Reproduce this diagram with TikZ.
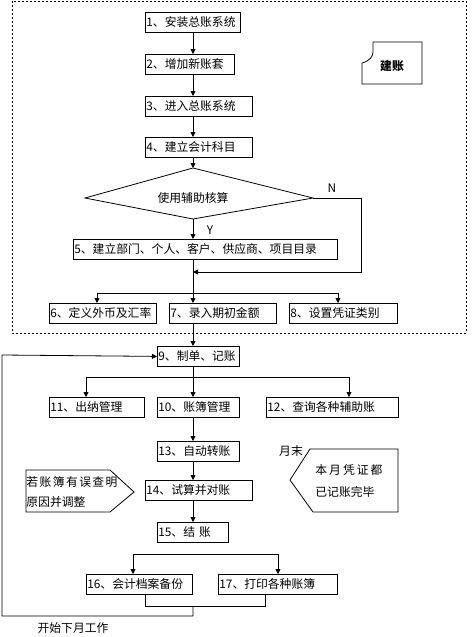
\documentclass[tikz,border=0pt]{standalone}
\usepackage{fontspec}
\newfontfamily\cjk{Noto Sans CJK SC}
\newfontfamily\cjkwide[LetterSpace=12]{Noto Sans CJK SC}
\usetikzlibrary{positioning, arrows.meta}

\begin{document}
\begin{tikzpicture}[x=1pt, y=-1pt, line width=0.8pt,
    every node/.style={font=\cjk\fontsize{11.8}{14}\selectfont},
    box/.style={draw, anchor=north west, minimum height=20pt, inner xsep=1pt, inner ysep=0pt, text width=#1, align=left},
    flow/.style={-{Triangle[length=5pt,width=5pt]}},
    note/.style={inner sep=0pt, anchor=west}]

    \useasboundingbox (0,0) rectangle (476,637);

    % Setup frame
    \draw[dash pattern=on 2pt off 2pt] (12,1) rectangle (466,333);
    \coordinate (spine) at (193,0);

    % Setup steps
    \node (b1) [box=93]  at (145,12)  {1、安装总账系统};
    \node (b2) [box=87]  at (145,54)  {2、增加新账套};
    \node (b3) [box=105] at (145,96)  {3、进入总账系统};
    \node (b4) [box=105] at (145,137) {4、建立会计科目};

    % Decision
    \coordinate (dT) at (193,168);
    \coordinate (dL) at (85,198);
    \coordinate (dR) at (313,198);
    \coordinate (dB) at (193,219);
    \draw (dT) -- (dR) -- (dB) -- (dL) -- cycle;
    \node (dtext) at (193,198) {使用辅助核算};
    \node (lblN) at (332,188) {N};
    \node (lblY) at (210,230) {Y};

    \node (b5) [box=262] at (73,239)  {5、建立部门、个人、客户、供应商、项目目录};
    \node (b6) [box=105] at (49,303)  {6、定义外币及汇率};
    \node (b7) [box=105] at (169,303) {7、录入期初金额};
    \node (b8) [box=106] at (289,303) {8、设置凭证类别};

    % Label card
    \coordinate (cA) at (373,42);
    \coordinate (cB) at (422,42);
    \coordinate (cC) at (422,84);
    \coordinate (cD) at (362,84);
    \draw (cA) -- (cB) -- (cC) -- (cD) -- (362,63) .. controls (370,61) and (373,56) .. (373,52) -- cycle;
    \node (card) at (392,66) {\bfseries 建账};

    % Monthly work
    \node (b9)  [box=80]  at (157,346) {9、制单、记账};
    \node (b11) [box=93]  at (49,397)  {11、出纳管理};
    \node (b10) [box=80]  at (157,397) {10、账簿管理};
    \node (b12) [box=130] at (266,397) {12、查询各种辅助账};
    \node (b13) [box=80]  at (157,441) {13、自动转账};
    \node (b14) [box=105] at (145,480) {14、试算并对账};
    \node (b15) [box=69]  at (157,522) {15、结\ 账};
    \node (b16) [box=104] at (86,574)  {16、会计档案备份};
    \node (b17) [box=117] at (218,574) {17、打印各种账簿};

    % Callouts
    \coordinate (lA) at (26,470);
    \coordinate (lB) at (110,470);
    \coordinate (lC) at (134,492);
    \coordinate (lD) at (110,512);
    \coordinate (lE) at (26,512);
    \draw (lA) -- (lB) -- (lC) -- (lD) -- (lE) -- cycle;
    \node (err1) [note] at (26,482) {\cjkwide 若账簿有误查明};
    \node (err2) [note] at (26,502) {原因并调整};

    \coordinate (rA) at (310,449);
    \coordinate (rB) at (398,449);
    \coordinate (rC) at (398,512);
    \coordinate (rD) at (313,512);
    \coordinate (rE) at (290,480);
    \draw (rA) -- (rB) -- (rC) -- (rD) -- (rE) -- cycle;
    \node (done1) [note] at (315,470) {\addfontfeature{LetterSpace=17}本月凭证都};
    \node (done2) [note] at (315,492) {已记账完毕};
    \node (monthend) at (291,451) {月末};

    \node (restart) at (73,628) {开始下月工作};

    % Connectors
    \draw[flow] (spine |- b1.south) -- (spine |- b2.north);
    \draw[flow] (spine |- b2.south) -- (spine |- b3.north);
    \draw[flow] (spine |- b3.south) -- (spine |- b4.north);
    \draw[flow] (spine |- b4.south) -- (dT);
    \draw[flow] (dB) -- (spine |- b5.north);
    \coordinate (join) at (193,272);
    \draw[flow] (dR) -- (361,198) -- (361,272) -- (join);
    \draw (spine |- b5.south) -- (193,293);
    \coordinate (br6) at (97,293);
    \coordinate (br8) at (338,293);
    \draw (br6) -- (br8);
    \draw[flow] (br6) -- (br6 |- b6.north);
    \draw[flow] (193,293) -- (spine |- b7.north);
    \draw[flow] (br8) -- (br8 |- b8.north);
    \draw[flow] (spine |- b7.south) -- (spine |- b9.north);

    \coordinate (br11) at (86,377);
    \coordinate (br12) at (349,377);
    \draw (spine |- b9.south) -- (193,377);
    \draw (br11) -- (br12);
    \draw[flow] (br11) -- (br11 |- b11.north);
    \draw[flow] (193,377) -- (spine |- b10.north);
    \draw[flow] (br12) -- (br12 |- b12.north);
    \draw[flow] (spine |- b10.south) -- (spine |- b13.north);
    \draw[flow] (spine |- b13.south) -- (spine |- b14.north);
    \draw[flow] (spine |- b14.south) -- (spine |- b15.north);

    \coordinate (br16) at (133,554);
    \coordinate (br17) at (278,554);
    \draw (br16) -- (br17);
    \draw[flow] (br16) -- (br16 |- b16.north);
    \draw[flow] (br17) -- (br17 |- b17.north);

    \coordinate (m16) at (145,0);
    \coordinate (m17) at (265,0);
    \draw (m16 |- b16.south) -- (145,606) -- (265,606) -- (m17 |- b17.south);
    \draw[flow] (193,606) -- (193,616) -- (2,616) -- (2,355) -- (b9.west);
\end{tikzpicture}
\end{document}
